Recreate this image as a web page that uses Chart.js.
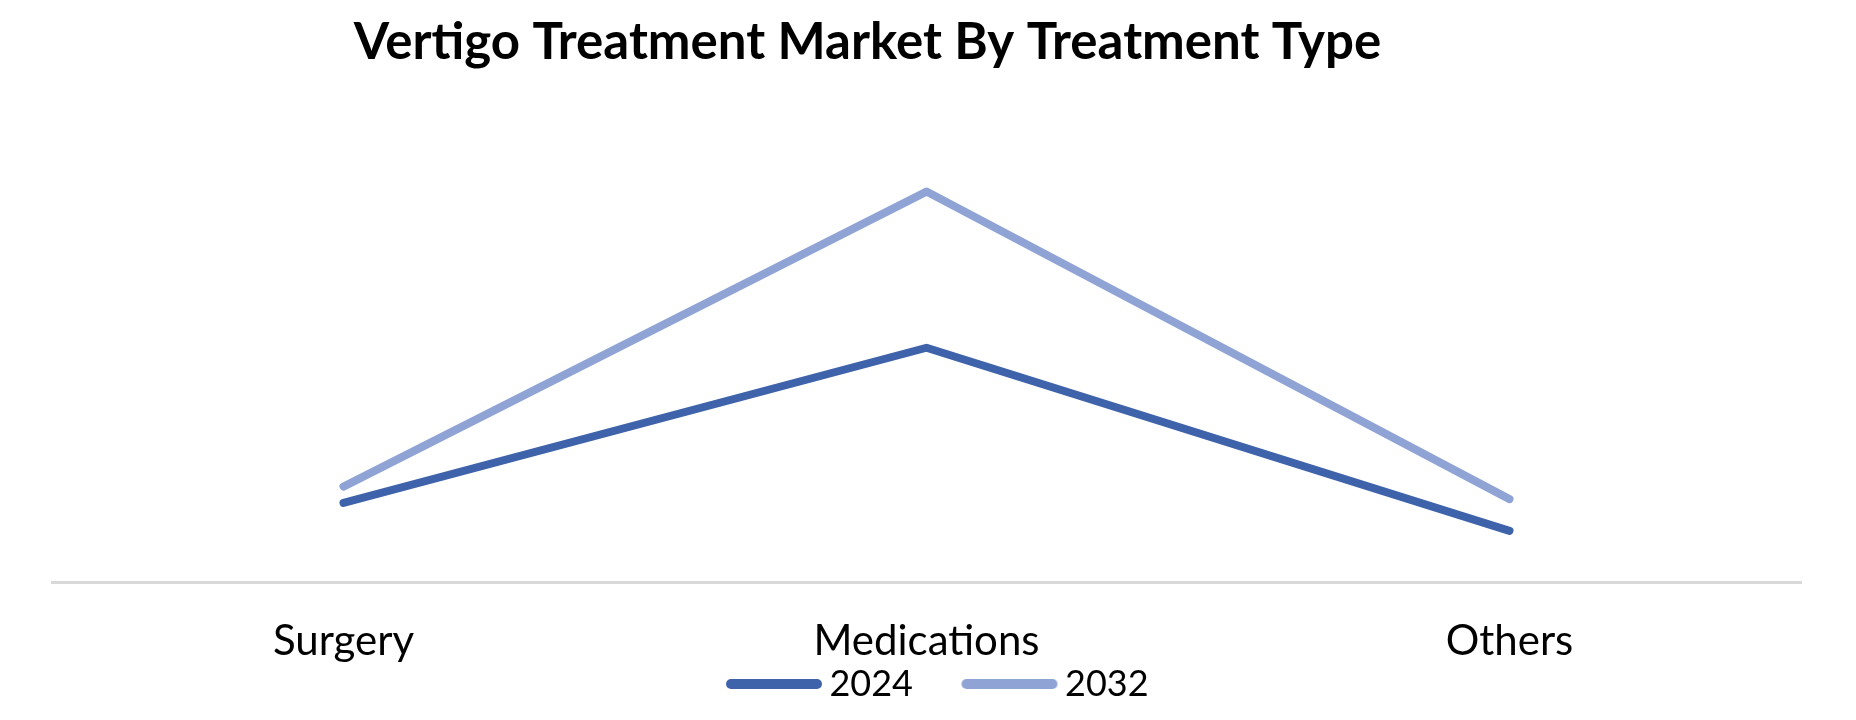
<!DOCTYPE html>
<html>
<head>
<meta charset="utf-8">
<script src="https://cdn.jsdelivr.net/npm/chart.js@4.4.1/dist/chart.umd.min.js"></script>
<style>
  html, body { margin: 0; padding: 0; background: #ffffff; }
  #wrap { width: 1856px; height: 720px; position: relative; }
</style>
</head>
<body>
<div id="wrap"><canvas id="c" width="1856" height="720"></canvas></div>
<script>
// ---- data ----
const chartTitle = 'Vertigo Treatment Market By Treatment Type';
const categories = ['Surgery', 'Medications', 'Others'];
const seriesNames = ['2024', '2032'];
const values2024 = [0.82, 2.43, 0.53];
const values2032 = [0.99, 4.05, 0.86];
const yMin = 0;
const yMax = 5;

// ---- styles ----
const colors = ['#3f63aa', '#8fa4d4'];
const FONT = 'Lato, "Open Sans", sans-serif';

function legendSample(color) {
  const cv = document.createElement('canvas');
  cv.width = 138; cv.height = 14;
  const g = cv.getContext('2d');
  g.strokeStyle = color;
  g.lineWidth = 10;
  g.lineCap = 'round';
  g.beginPath();
  g.moveTo(42, 7);
  g.lineTo(128, 7);
  g.stroke();
  return cv;
}
const samples = colors.map(legendSample);

const titlePlugin = {
  id: 'offsetTitle',
  afterDraw(chart) {
    const ctx = chart.ctx;
    ctx.save();
    ctx.font = 'bold 51px ' + FONT;
    ctx.fillStyle = '#000000';
    ctx.textAlign = 'center';
    ctx.textBaseline = 'alphabetic';
    ctx.fillText(chartTitle, 867.5, 59);
    ctx.restore();
  }
};

new Chart(document.getElementById('c'), {
  type: 'line',
  data: {
    labels: categories,
    datasets: [
      { label: seriesNames[0], data: values2024, borderColor: colors[0], backgroundColor: colors[0] },
      { label: seriesNames[1], data: values2032, borderColor: colors[1], backgroundColor: colors[1] }
    ]
  },
  options: {
    responsive: false,
    devicePixelRatio: 1,
    animation: false,
    layout: { padding: { top: 100, left: 52, right: 55, bottom: 8 } },
    elements: {
      line: { borderWidth: 8, tension: 0, borderCapStyle: 'round', borderJoinStyle: 'round', fill: false },
      point: { radius: 0, hoverRadius: 0 }
    },
    scales: {
      x: {
        type: 'category',
        offset: true,
        grid: { display: false, drawTicks: false },
        border: { display: true, color: '#d9d9d9', width: 3 },
        ticks: {
          color: '#000000',
          font: { family: FONT, size: 42, lineHeight: 1 },
          mirror: true,
          padding: -80,
          maxRotation: 0,
          autoSkip: false
        },
        afterFit(scale) { scale.height = 57; }
      },
      y: { display: false, min: yMin, max: yMax }
    },
    plugins: {
      title: { display: false },
      tooltip: { enabled: false },
      legend: {
        display: true,
        position: 'bottom',
        labels: {
          color: '#000000',
          font: { family: FONT, size: 36 },
          usePointStyle: true,
          pointStyleWidth: 107,
          padding: 27,
          generateLabels(chart) {
            return chart.data.datasets.map((ds, i) => ({
              text: ds.label,
              pointStyle: samples[i],
              fillStyle: colors[i],
              strokeStyle: colors[i],
              lineWidth: 0,
              hidden: false,
              datasetIndex: i,
              fontColor: '#000000'
            }));
          }
        }
      }
    }
  },
  plugins: [titlePlugin]
});
</script>
</body>
</html>
